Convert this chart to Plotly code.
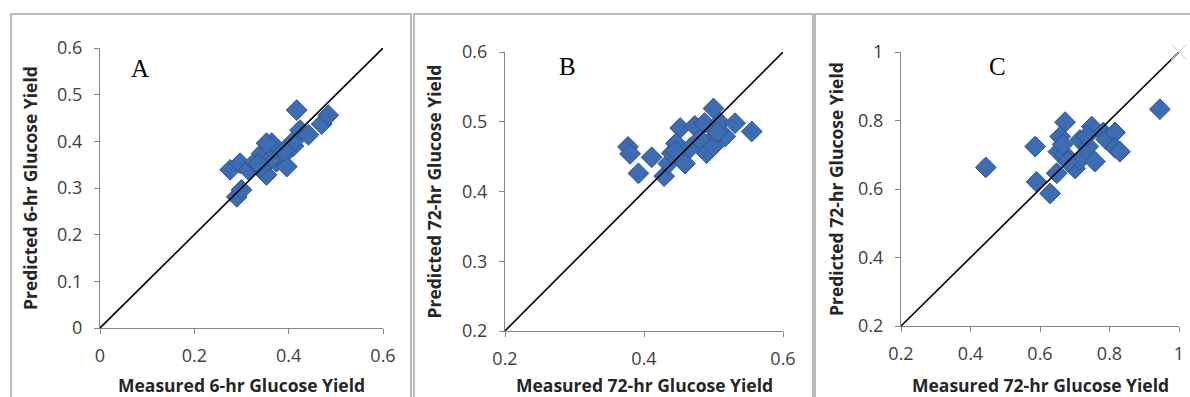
import plotly.graph_objects as go

W, H = 1190, 397

# ---------------- data ----------------
a_measured = [0.276, 0.290, 0.300, 0.297, 0.315, 0.329, 0.343, 0.353, 0.364, 0.374,
              0.380, 0.396, 0.403, 0.410, 0.410, 0.390, 0.360, 0.340, 0.417, 0.424,
              0.442, 0.470, 0.484, 0.353, 0.336]
a_predicted = [0.339, 0.281, 0.296, 0.353, 0.339, 0.356, 0.374, 0.328, 0.396, 0.356,
               0.370, 0.346, 0.385, 0.390, 0.400, 0.380, 0.360, 0.345, 0.467, 0.424,
               0.414, 0.437, 0.456, 0.396, 0.352]

b_measured = [0.377, 0.380, 0.392, 0.411, 0.429, 0.435, 0.440, 0.452, 0.446, 0.459,
              0.466, 0.473, 0.487, 0.500, 0.509, 0.517, 0.531, 0.555, 0.490, 0.497,
              0.500, 0.505, 0.480, 0.445]
b_predicted = [0.464, 0.454, 0.426, 0.449, 0.422, 0.440, 0.455, 0.491, 0.469, 0.440,
               0.462, 0.494, 0.498, 0.519, 0.499, 0.479, 0.498, 0.486, 0.455, 0.474,
               0.465, 0.485, 0.475, 0.458]

c_measured = [0.444, 0.945, 0.586, 0.590, 0.629, 0.648, 0.672, 0.658, 0.653, 0.672,
              0.701, 0.715, 0.715, 0.749, 0.739, 0.758, 0.782, 0.790, 0.816, 0.816,
              0.830, 0.735, 0.665, 0.680]
c_predicted = [0.663, 0.833, 0.724, 0.621, 0.587, 0.646, 0.795, 0.753, 0.709, 0.700,
               0.660, 0.685, 0.743, 0.782, 0.724, 0.680, 0.765, 0.745, 0.765, 0.720,
               0.709, 0.755, 0.730, 0.680]

panels = [
    dict(letter="A", x=a_measured, y=a_predicted, rng=(0, 0.6),
         xticks=[0, 0.2, 0.4, 0.6], yticks=[0, 0.1, 0.2, 0.3, 0.4, 0.5, 0.6],
         xtitle="Measured 6-hr Glucose Yield", ytitle="Predicted 6-hr Glucose Yield"),
    dict(letter="B", x=b_measured, y=b_predicted, rng=(0.2, 0.6),
         xticks=[0.2, 0.4, 0.6], yticks=[0.2, 0.3, 0.4, 0.5, 0.6],
         xtitle="Measured 72-hr Glucose Yield", ytitle="Predicted 72-hr Glucose Yield"),
    dict(letter="C", x=c_measured, y=c_predicted, rng=(0.2, 1.0),
         xticks=[0.2, 0.4, 0.6, 0.8, 1.0], yticks=[0.2, 0.4, 0.6, 0.8, 1.0],
         xtitle="Measured 72-hr Glucose Yield", ytitle="Predicted 72-hr Glucose Yield"),
]

# ---------------- layout geometry (pixels) ----------------
# plot area: left, right, top, bottom
boxes = [(100, 383, 48, 328), (505, 783, 52, 331), (901, 1179, 52, 326)]
frames = [(11, 411), (414, 813), (815, 1200)]
letter_pos = [(140, 68), (567, 66), (997, 66)]
ytitle_x = [30, 433, 836]


def px(x):
    return x / W


def py(y):
    return 1 - y / H


def fmt(v):
    return f"{v:g}"


fig = go.Figure()
marker = dict(symbol="diamond", size=16, color="#3D6CB3",
              line=dict(color="#2B5590", width=1))
TICKFONT = dict(family="Open Sans", size=18, color="#404040")
TITLEFONT = dict(family="Open Sans", size=17.5, color="#262626", weight="bold")
AXIS_COLOR = "#868686"

for i, (p, box) in enumerate(zip(panels, boxes)):
    n = "" if i == 0 else str(i + 1)
    xa, ya = "x" + n, "y" + n
    l, r, t, b = box
    fig.add_trace(go.Scatter(x=p["x"], y=p["y"], mode="markers", marker=marker,
                             xaxis=xa, yaxis=ya, showlegend=False))
    lo, hi = p["rng"]
    fig.add_trace(go.Scatter(x=[lo, hi], y=[lo, hi], mode="lines",
                             line=dict(color="black", width=1.6),
                             xaxis=xa, yaxis=ya, showlegend=False))
    if i == 2:
        fig.add_trace(go.Scatter(x=[hi], y=[hi], mode="markers",
                                 marker=dict(symbol="x-thin", size=16,
                                             line=dict(color="#C9C9EA", width=1)),
                                 xaxis=xa, yaxis=ya, showlegend=False, cliponaxis=False))
    common = dict(showline=True, linecolor=AXIS_COLOR, linewidth=1, ticks="outside",
                  ticklen=5, tickcolor=AXIS_COLOR, tickwidth=1, showgrid=False,
                  zeroline=False, tickfont=TICKFONT, fixedrange=True, automargin=False)
    fig.layout["xaxis" + n] = dict(
        domain=[px(l), px(r)], anchor=ya, range=[lo, hi],
        tickvals=p["xticks"], ticktext=[fmt(v) for v in p["xticks"]],
        ticklabelstandoff=6, **common)
    fig.layout["yaxis" + n] = dict(
        domain=[py(b), py(t)], anchor=xa, range=[lo, hi],
        tickvals=p["yticks"], ticktext=[fmt(v) for v in p["yticks"]],
        ticklabelstandoff=8, **common)
    # axis titles
    fig.add_annotation(x=px((l + r) / 2), y=py(385), xref="paper", yref="paper",
                       text=p["xtitle"], showarrow=False, font=TITLEFONT,
                       xanchor="center", yanchor="middle")
    fig.add_annotation(x=px(ytitle_x[i]), y=py((t + b) / 2), xref="paper", yref="paper",
                       text=p["ytitle"], showarrow=False, font=TITLEFONT, textangle=-90,
                       xanchor="center", yanchor="middle")
    lx, ly = letter_pos[i]
    fig.add_annotation(x=px(lx), y=py(ly), xref="paper", yref="paper",
                       text=p["letter"], showarrow=False,
                       font=dict(family="Liberation Serif", size=25, color="black"),
                       xanchor="center", yanchor="middle")
    fl, fr = frames[i]
    fig.add_shape(type="rect", xref="paper", yref="paper",
                  x0=px(fl), x1=px(fr), y0=py(H + 10), y1=py(14),
                  line=dict(color="#A6A6A6", width=1.5), layer="below")

fig.update_layout(width=W, height=H, margin=dict(l=0, r=0, t=0, b=0),
                  paper_bgcolor="white", plot_bgcolor="white")

fig.write_html("out.html")
